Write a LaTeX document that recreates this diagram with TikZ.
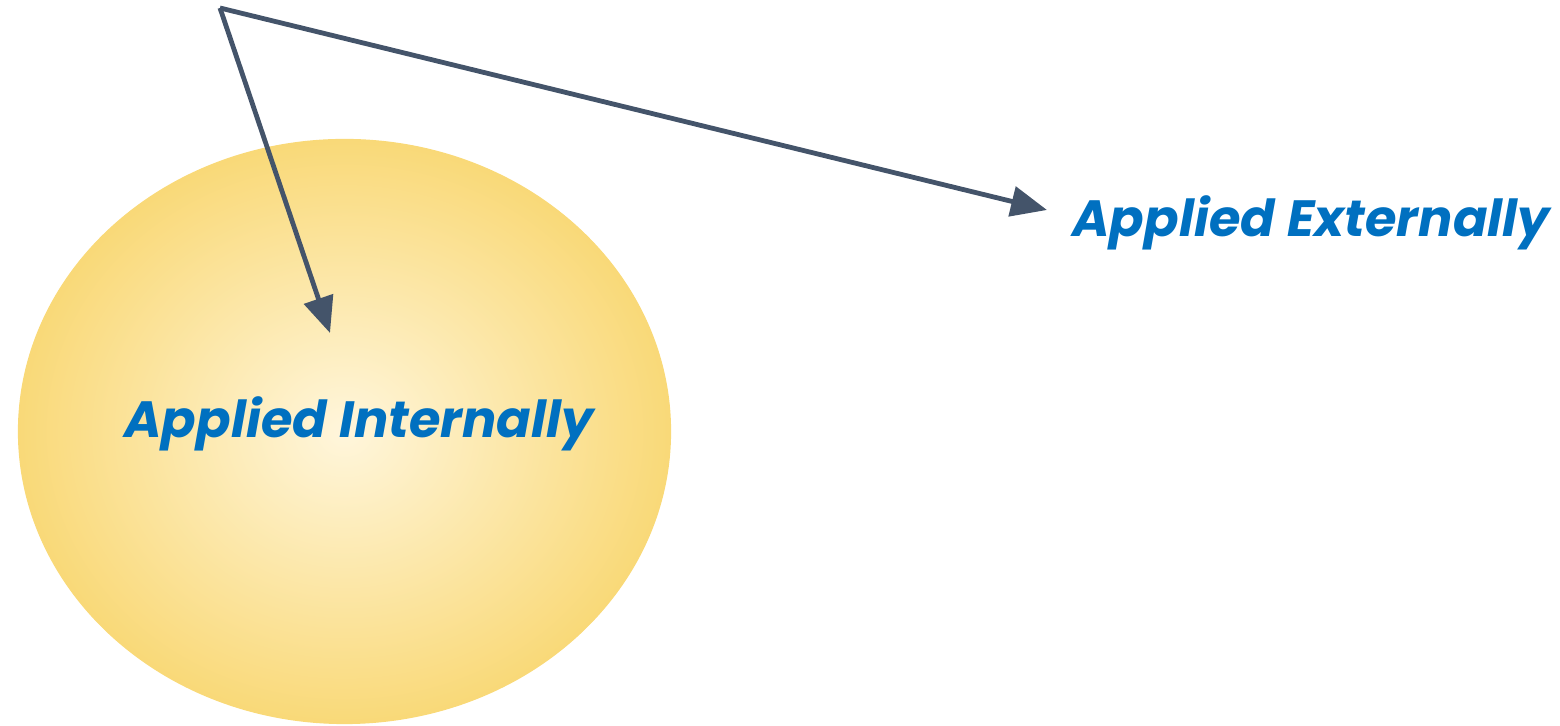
\documentclass[tikz,border=0pt]{standalone}
\usepackage{fontspec}
\newfontfamily\labelfont{Poppins}
\usetikzlibrary{arrows.meta, shapes.geometric, positioning}
\definecolor{slate}{HTML}{44546A}
\definecolor{labelblue}{HTML}{0070C0}
\definecolor{bubble_in}{HTML}{FFF6DC}
\definecolor{bubble_out}{HTML}{F9D978}
\tikzset{
  label_font/.style = {font=\labelfont\bfseries\itshape\fontsize{25.5}{31}\selectfont},
  label_text/.style = {label_font, text=labelblue, inner sep=0},
  bubble/.style = {ellipse, inner sep=0, draw=bubble_out, line width=0.6pt, shading=radial, inner color=bubble_in, outer color=bubble_out},
  pointer/.style = {draw=slate, line width=2.4pt, -{Triangle[length=18pt, width=15pt]}}
}
\begin{document}
\begin{tikzpicture}[x=0.5pt, y=0.5pt]
        \useasboundingbox (0,0) rectangle (1560,726);

        % Ellipse and labels
        \node[bubble, minimum width=326pt, minimum height=292pt] at (344.5,294.5) (inner) {};
        \node[label_text] at (359,302) (in_lbl) {Applied Internally};
        \node[label_text, anchor=west] at (1072,503) (ex_lbl) {Applied Externally};

        % Arrows
        \coordinate (origin) at (220,718);
        \coordinate (in_tip) at (330,393);
        \coordinate (ex_tip) at (1047,516);
        \draw[pointer] (origin)--(in_tip);
        \draw[pointer] (origin)--(ex_tip);
    \end{tikzpicture}
\end{document}
